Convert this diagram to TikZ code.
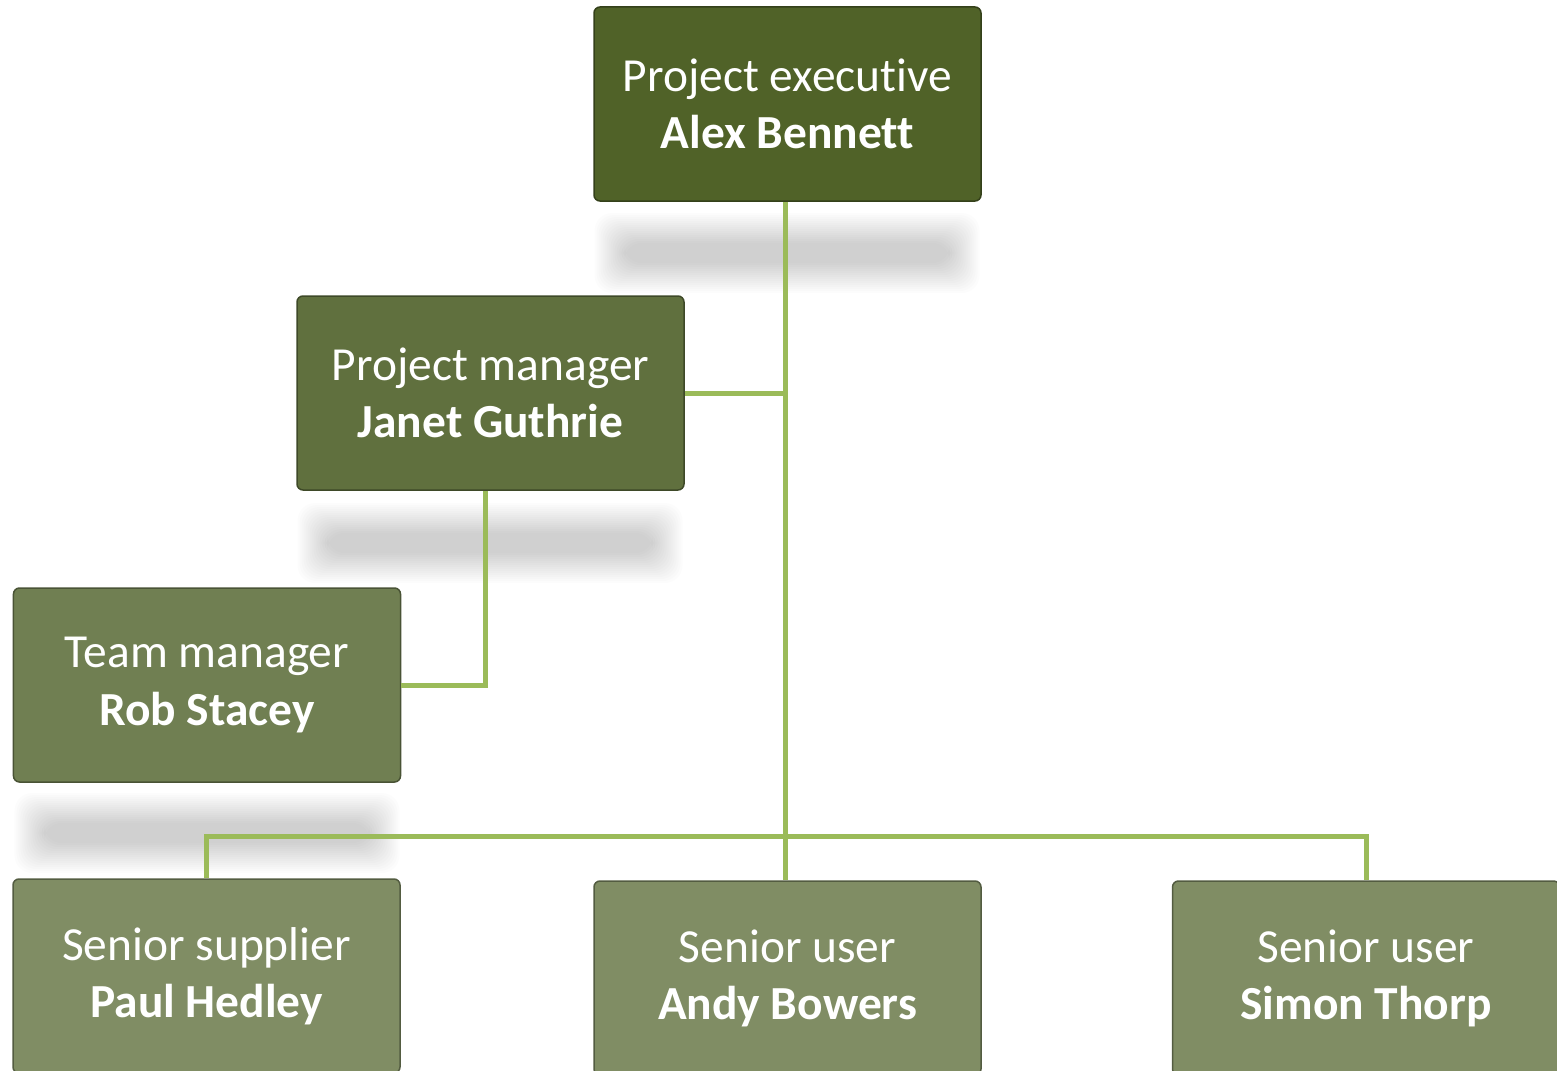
\documentclass[tikz,border=0pt]{standalone}
\usepackage{fontspec}
\setmainfont{Carlito}[RawFeature=-liga]
\usepackage{tikz}
\definecolor{execgreen}{RGB}{80,98,40}
\definecolor{pmgreen}{RGB}{96,112,62}
\definecolor{tmgreen}{RGB}{112,127,82}
\definecolor{usergreen}{RGB}{128,141,100}
\definecolor{linkgreen}{RGB}{155,187,89}
\newcommand{\blurbar}[2]{%
    \foreach \k in {0,...,15}{%
        \fill[black,opacity=0.012,rounded corners=0.35cm]
            (#1-3.85+\k*0.04,#2-0.8+\k*0.04) rectangle (#1+3.85-\k*0.04,#2+0.8-\k*0.04);
    }}
\tikzset{
    rolebox/.style={draw=#1!65!black, fill=#1, line width=0.03cm, rounded corners=0.12cm,
        minimum width=7.74cm, minimum height=3.88cm, text=white, align=center,
        font=\fontsize{27}{32.5}\selectfont, inner sep=0pt},
    link/.style={draw=linkgreen, line width=0.1cm}
}
\begin{document}
\begin{tikzpicture}
    \useasboundingbox (0,0) rectangle (31.14,-21.42);

		% soft shadows under the upper boxes
		\blurbar{15.74}{-5.06}
		\blurbar{9.80}{-10.86}
		\blurbar{4.14}{-16.66}

		\node[rolebox=execgreen] (exec) at (15.75,-2.08) {Project executive\\\textbf{Alex Bennett}};
		\node[rolebox=pmgreen] (pm) at (9.81,-7.86) {Project manager\\\textbf{Janet Guthrie}};
		\node[rolebox=tmgreen] (tm) at (4.14,-13.70) {Team manager\\\textbf{Rob Stacey}};
		\node[rolebox=usergreen] (supplier) at (4.13,-19.52) {Senior supplier\\\textbf{Paul Hedley}};
		\node[rolebox=usergreen] (andy) at (15.75,-19.56) {Senior user\\\textbf{Andy Bowers}};
		\node[rolebox=usergreen] (simon) at (27.32,-19.56) {Senior user\\\textbf{Simon Thorp}};

		\coordinate (bus) at (15.70,-16.72);

		% connectors
		\draw[link] ([xshift=-0.05cm]exec.south) -- ([xshift=-0.05cm]andy.north);
		\draw[link] (pm.east) -- (pm.east -| bus);
		\draw[link] ([xshift=-0.11cm]pm.south) |- (tm.east);
		\draw[link] (supplier.north) |- (bus) -| (simon.north);
\end{tikzpicture}
\end{document}
